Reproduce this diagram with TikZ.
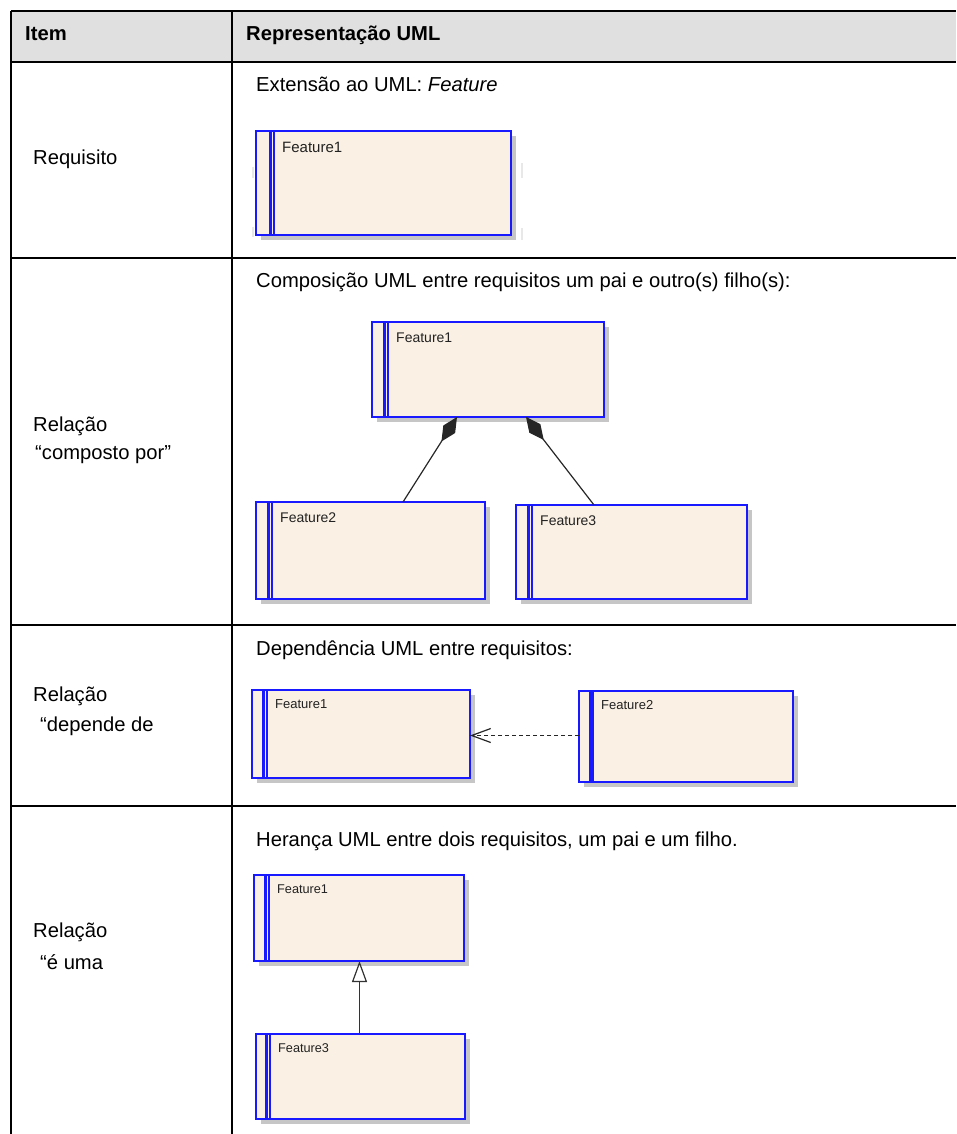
\documentclass[tikz,border=0pt]{standalone}
\usepackage{fontspec}
\setmainfont{Liberation Sans}
\usetikzlibrary{arrows.meta}
\definecolor{boxfill}{RGB}{250,240,227}
\definecolor{boxline}{RGB}{25,25,255}
\definecolor{hdrfill}{RGB}{224,224,224}
\definecolor{shadowc}{RGB}{198,198,198}
\definecolor{ftxt}{RGB}{34,34,34}
\tikzset{
  fbox/.style={draw=boxline, fill=boxfill, line width=1.6pt, inner sep=0pt, outer sep=0pt, rectangle},
  ftext/.style={inner sep=0pt, text=ftxt},
  tline/.style={line width=1.6pt, black},
  btext/.style={inner sep=0pt, anchor=base west, font=\fontsize{20.2}{24}\selectfont},
  htext/.style={btext, font=\fontsize{20.2}{24}\selectfont\bfseries},
  conn/.style={line width=1.2pt, black!85},
}
\newcommand\featbox[9]{%
  \fill[shadowc] (#2+5,#3+5) rectangle (#4+5,#5+5);
  \node[fbox, minimum width=#4-#2, minimum height=#5-#3, anchor=north west] (#1) at (#2,#3) {};
  \draw[boxline, line width=2.4pt] (#6,#3) -- (#6,#5);
  \draw[boxline, line width=1.4pt] (#7,#3) -- (#7,#5);
  \node[ftext, anchor=base west, font=\fontsize{#9}{#9}\selectfont] (#1-label) at (#7+8,#3+1.45*#9) {#8};
}
\begin{document}
\begin{tikzpicture}[x=1pt,y=-1pt]
\useasboundingbox (0,0) rectangle (956,1134);
% table
\fill[hdrfill] (11,11) rectangle (956,62);
\draw[line width=1.2pt] (11,11) -- (956,11);
\draw[tline] (11,11) -- (11,1134);
\draw[tline] (232,11) -- (232,1134);
\draw[line width=2.4pt] (11,62) -- (956,62);
\draw[tline] (11,258) -- (956,258);
\draw[tline] (11,625) -- (956,625);
\draw[tline] (11,806) -- (956,806);
% header
\node[htext] (hitem) at (25,41) {Item};
\node[htext] (hrep) at (246,41) {Representação UML};
% row 1
\node[btext] (l1) at (33,165) {Requisito};
\node[btext] (t1) at (256,92) {Extensão ao UML: \textit{Feature}};
\draw[gray!18, line width=2pt] (522,163) -- (522,178) (522,228) -- (522,240);
\draw[gray!18, line width=2pt] (253,167) -- (253,178) (253,227) -- (253,237);
\featbox{r1f1}{256}{131}{511}{235}{270.5}{274}{Feature1}{15}
% row 2
\node[btext] (l2a) at (33,431) {Relação};
\node[btext] (l2b) at (35,459) {“composto por”};
\node[btext] (t2) at (256,287) {Composição UML entre requisitos um pai e outro(s) filho(s):};
\featbox{r2f1}{372}{322}{604}{417}{384.5}{388}{Feature1}{14}
\featbox{r2f2}{256}{502}{485}{599}{268.5}{272}{Feature2}{14}
\featbox{r2f3}{516}{505}{747}{599}{528.5}{532}{Feature3}{14}
\draw[conn, -{Diamond[length=29pt,width=14pt]}] ([xshift=147]r2f2.north west) -- ([xshift=85]r2f1.south west);
\draw[conn, -{Diamond[length=29pt,width=14pt]}] ([xshift=78]r2f3.north west) -- ([xshift=154]r2f1.south west);
% row 3
\node[btext] (l3a) at (33,701) {Relação};
\node[btext] (l3b) at (40,731) {“depende de};
\node[btext] (t3) at (256,655) {Dependência UML entre requisitos:};
\featbox{r3f1}{252}{690}{470}{778}{263.5}{267}{Feature1}{13}
\featbox{r3f2}{579}{691}{793}{782}{590.5}{593}{Feature2}{13}
\coordinate (r3s) at ([yshift=1]r3f2.west);
\draw[conn, dash pattern=on 4pt off 3pt, -{Straight Barb[length=19pt,width=14pt]}] (r3s) -- (r3s -| r3f1.east);
% row 4
\node[btext] (l4a) at (33,937) {Relação};
\node[btext] (l4b) at (40,969) {“é uma};
\node[btext] (t4) at (256,846) {Herança UML entre dois requisitos, um pai e um filho.};
\featbox{r4f1}{254}{875}{464}{961}{265.5}{269}{Feature1}{12.7}
\featbox{r4f3}{256}{1034}{465}{1119}{266.5}{270}{Feature3}{12.7}
\coordinate (r4s) at ([xshift=103.5]r4f3.north west);
\draw[conn, black!80, -{Triangle[open, length=21pt, width=15pt, fill=white]}] (r4s) -- (r4s |- r4f1.south);
\end{tikzpicture}
\end{document}
